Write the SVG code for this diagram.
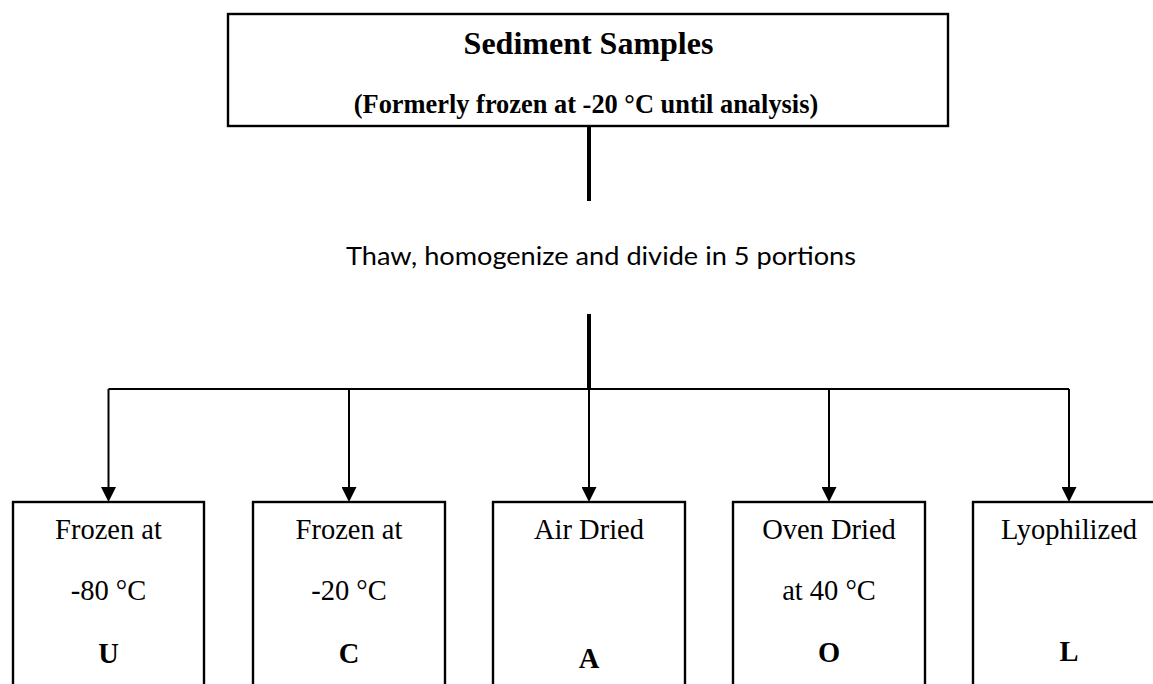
<svg xmlns="http://www.w3.org/2000/svg" width="1153" height="684" viewBox="0 0 1153 684">
  <defs>
    <marker id="arrow" markerUnits="userSpaceOnUse" markerWidth="15" markerHeight="15" refX="3" refY="7.5" orient="auto" viewBox="0 0 15 15">
      <path d="M0,0 L15,7.5 L0,15 Z" fill="#000"/>
    </marker>
    <style>
      .box { fill: #fff; stroke: #000; stroke-width: 2.4; }
      .serif { font-family: "Liberation Serif", "Times New Roman", serif; fill: #000; text-anchor: middle; }
      .title { font-size: 32px; font-weight: bold; }
      .sub { font-size: 26.4px; font-weight: bold; }
      .lbl { font-size: 28.5px; }
      .code { font-size: 28.5px; font-weight: bold; }
      .mid { font-family: Lato, "Open Sans", sans-serif; font-size: 25px; fill: #000; text-anchor: middle; }
      .thick { stroke: #000; stroke-width: 4; fill: none; }
      .thin { stroke: #000; stroke-width: 2; fill: none; }
      .arr { stroke: #000; stroke-width: 2; fill: none; marker-end: url(#arrow); }
    </style>
  </defs>
  <rect width="1153" height="684" fill="#fff"/>

  <g id="node-sediment">
    <rect class="box" x="228" y="14" width="720" height="112" stroke-width="2.8"/>
    <text class="serif title" x="588.5" y="54">Sediment Samples</text>
    <text class="serif sub" x="586" y="113">(Formerly frozen at -20 °C until analysis)</text>
  </g>

  <g id="label-thaw">
    <text class="mid" x="601" y="265" textLength="510" lengthAdjust="spacingAndGlyphs">Thaw, homogenize and divide in 5 portions</text>
  </g>

  <g id="connectors">
    <line class="thick" x1="589" y1="126" x2="589" y2="201"/>
    <line class="thick" x1="589" y1="314" x2="589" y2="390"/>
    <line class="thin" x1="108.5" y1="389" x2="1069" y2="389"/>
    <line class="arr" x1="108.5" y1="389" x2="108.5" y2="490"/>
    <line class="arr" x1="349" y1="389" x2="349" y2="490"/>
    <line class="arr" x1="589" y1="389" x2="589" y2="490"/>
    <line class="arr" x1="829" y1="389" x2="829" y2="490"/>
    <line class="arr" x1="1069" y1="389" x2="1069" y2="490"/>
  </g>

  <g id="node-U">
    <rect class="box" x="13" y="502" width="191" height="200"/>
    <text class="serif lbl" x="108.5" y="539">Frozen at</text>
    <text class="serif lbl" x="108.5" y="600">-80 °C</text>
    <text class="serif code" x="108.5" y="663">U</text>
  </g>

  <g id="node-C">
    <rect class="box" x="253" y="502" width="192" height="200"/>
    <text class="serif lbl" x="349" y="539">Frozen at</text>
    <text class="serif lbl" x="349" y="600">-20 °C</text>
    <text class="serif code" x="349" y="663">C</text>
  </g>

  <g id="node-A">
    <rect class="box" x="493" y="502" width="192" height="200"/>
    <text class="serif lbl" x="589" y="539">Air Dried</text>
    <text class="serif code" x="589" y="668">A</text>
  </g>

  <g id="node-O">
    <rect class="box" x="733" y="502" width="192" height="200"/>
    <text class="serif lbl" x="829" y="539">Oven Dried</text>
    <text class="serif lbl" x="829" y="600">at 40 °C</text>
    <text class="serif code" x="829" y="662">O</text>
  </g>

  <g id="node-L">
    <rect class="box" x="973" y="502" width="192" height="200"/>
    <text class="serif lbl" x="1069" y="539">Lyophilized</text>
    <text class="serif code" x="1069" y="661">L</text>
  </g>
</svg>
